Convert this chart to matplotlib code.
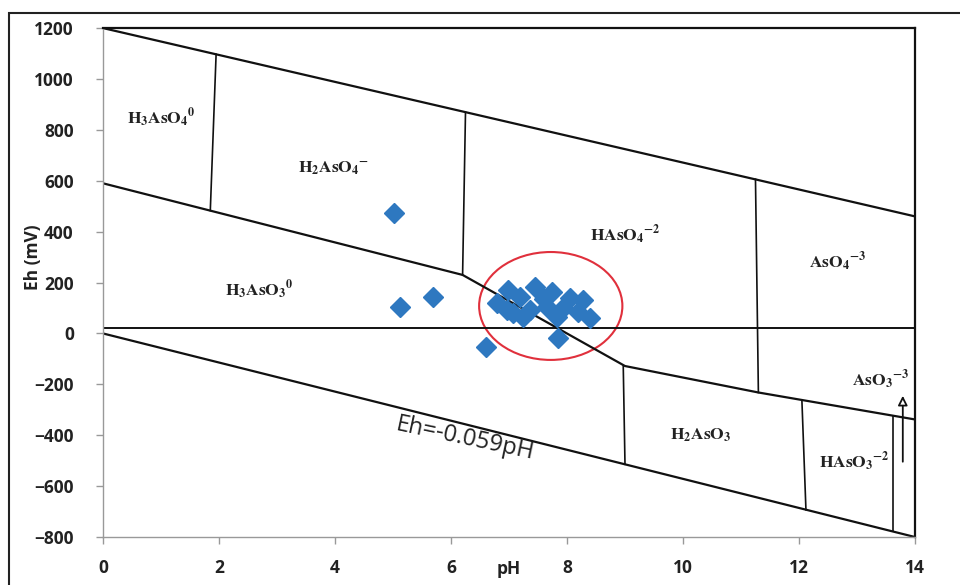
import numpy as np
import matplotlib.pyplot as plt
from matplotlib.patches import Ellipse, Rectangle

plt.rcParams['mathtext.fontset'] = 'stix'

# boundaries of the Eh-pH diagram (pH, Eh mV)
upper_ph = [0, 14]
upper_eh = [1200, 460]
lower_ph = [0, 14]
lower_eh = [0, -800]
redox_ph = [0, 6.2, 9.0, 11.3, 14]
redox_eh = [590, 230, -128, -232, -338]
hline_eh = 20

# vertical boundaries: (pH_top, Eh_top, pH_bottom, Eh_bottom)
verticals = [
    (1.95, 1097, 1.85, 483),
    (6.25, 869, 6.2, 230),
    (11.25, 606, 11.3, -232),
    (8.97, -128, 9.0, -514),
    (12.05, -261, 12.12, -693),
    (13.62, -324, 13.62, -778),
]

# measured samples
sample_ph = [5.02, 5.12, 5.69, 6.6, 6.98, 6.79, 7.19, 7.45, 7.74, 8.05, 8.4, 7.84,
             6.97, 7.36, 7.66, 7.93, 8.19, 7.6, 7.24, 7.83, 7.07, 8.28]
sample_eh = [473, 104, 143, -53, 170, 119, 143, 182, 163, 139, 60, -18,
             92, 92, 104, 100, 84, 135, 65, 65, 80, 131]

labels = [
    (1.0, 846, r'$\mathbf{H_3AsO_4{}^0}$'),
    (3.97, 650, r'$\mathbf{H_2AsO_4{}^{-}}$'),
    (2.7, 170, r'$\mathbf{H_3AsO_3{}^0}$'),
    (9.0, 387, r'$\mathbf{HAsO_4{}^{-2}}$'),
    (12.67, 280, r'$\mathbf{AsO_4{}^{-3}}$'),
    (10.3, -400, r'$\mathbf{H_2AsO_3}$'),
    (12.95, -505, r'$\mathbf{HAsO_3{}^{-2}}$'),
    (13.4, -183, r'$\mathbf{AsO_3{}^{-3}}$'),
]

fig = plt.figure(figsize=(9.6, 5.85), dpi=100)
ax = fig.add_axes([0.1073, 0.082, 0.8458, 0.870])

fig.patches.append(Rectangle((0.009, -0.1), 1.2, 1.078, transform=fig.transFigure,
                             fill=False, ec='#222222', lw=1.5))

ax.plot(upper_ph, upper_eh, color='#111111', lw=1.6)
ax.plot(lower_ph, lower_eh, color='#111111', lw=1.6)
ax.plot(redox_ph, redox_eh, color='#111111', lw=1.6)
ax.plot([0, 14], [hline_eh, hline_eh], color='#111111', lw=1.4)
for x0, y0, x1, y1 in verticals:
    ax.plot([x0, x1], [y0, y1], color='#111111', lw=1.2)

ax.plot(sample_ph, sample_eh, 'D', color='#2e78c0', markersize=10, mec='#2e78c0')

ax.add_patch(Ellipse((7.72, 108), 2.47, 424, fill=False, ec='#e0303c', lw=1.5))

ax.annotate('', xy=(13.79, -234), xytext=(13.79, -515),
            arrowprops=dict(arrowstyle='-|>', fc='white', ec='#111111', lw=1.3,
                            mutation_scale=14))

for x, y, t in labels:
    ax.text(x, y, t, fontsize=12.5, ha='center', va='center', color='#222222')

ax.text(6.24, -415, 'Eh=-0.059pH', fontsize=17, rotation=-12, ha='center', va='center',
        family='Open Sans', color='#222222')

ax.set_xlim(0, 14)
ax.set_ylim(-800, 1200)
ax.set_xticks(np.arange(0, 15, 2))
ax.set_yticks(np.arange(-800, 1201, 200))
for side in ['left', 'bottom']:
    ax.spines[side].set_color('#999999')
    ax.spines[side].set_linewidth(1.0)
for side in ['top', 'right']:
    ax.spines[side].set_color('#111111')
    ax.spines[side].set_linewidth(1.6)
ax.tick_params(axis='both', color='#999999', length=5, width=1,
               labelsize=12.5, labelcolor='#222222')
ax.tick_params(axis='y', pad=16)
ax.tick_params(axis='x', pad=11)
for lab in ax.get_xticklabels() + ax.get_yticklabels():
    lab.set_fontweight('bold')
    lab.set_family('Open Sans')

ax.text(7.0, -890, 'pH', fontsize=12.5, fontweight='bold', family='Open Sans',
        ha='center', va='top', color='#222222')
ax.text(-1.2, 300, 'Eh (mV)', fontsize=12.5, fontweight='bold', family='Open Sans',
        rotation=90, ha='center', va='center', color='#222222')

fig.savefig('out.png', dpi=100)
